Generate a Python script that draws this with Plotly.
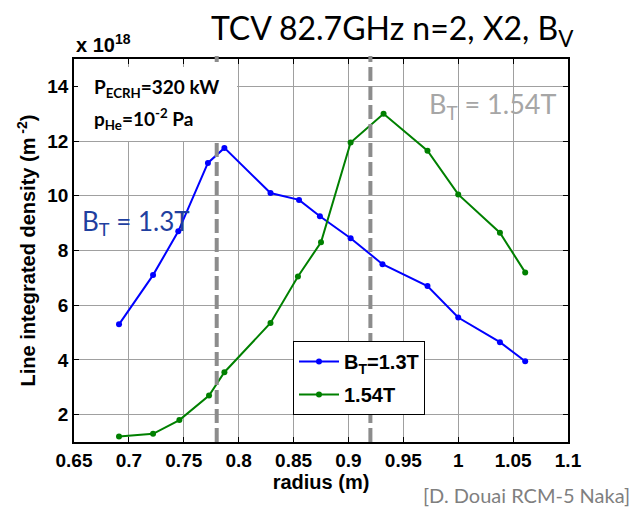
import plotly.graph_objects as go

# Line integrated density (x 1e18 m^-2) versus radius, two toroidal fields
radius_13 = [0.691, 0.722, 0.745, 0.772, 0.787, 0.829, 0.855, 0.874, 0.902, 0.931, 0.972, 1.000, 1.038, 1.061]
density_13 = [5.3, 7.1, 8.7, 11.2, 11.75, 10.1, 9.85, 9.25, 8.45, 7.5, 6.7, 5.55, 4.65, 3.95]

radius_154 = [0.691, 0.722, 0.746, 0.773, 0.787, 0.829, 0.854, 0.875, 0.902, 0.932, 0.972, 1.000, 1.038, 1.061]
density_154 = [1.2, 1.3, 1.8, 2.7, 3.55, 5.35, 7.05, 8.3, 11.95, 13.0, 11.65, 10.05, 8.65, 7.2]

# resonance positions (dashed markers)
resonance_r = [0.78, 0.92]

x_ticks = [0.65, 0.7, 0.75, 0.8, 0.85, 0.9, 0.95, 1.0, 1.05, 1.1]
x_ticktext = ["0.65", "0.7", "0.75", "0.8", "0.85", "0.9", "0.95", "1", "1.05", "1.1"]
y_ticks = [2, 4, 6, 8, 10, 12, 14]
y_ticktext = ["2", "4", "6", "8", "10", "12", "14"]

# plot-area geometry in pixels
L, R, T, B = 74, 72, 59, 68
W, H = 640, 510
PW, PH = W - L - R, H - T - B


def px(xp):
    return (xp - L) / PW


def py(yp):
    return (H - B - yp) / PH


def bold(s):
    return "<b>" + s + "</b>"


ARIAL = "Liberation Sans, Arial"
SOFT = "Lato, Open Sans, sans-serif"
tick_font = dict(family=ARIAL, size=19, color="black")
title_font = dict(family=ARIAL, size=20, color="black")

fig = go.Figure()
fig.add_trace(go.Scatter(
    x=radius_13, y=density_13, mode="lines+markers",
    name=bold("B<sub>T</sub>=1.3T"), legendgroup="a",
    line=dict(color="#0000ff", width=2),
    marker=dict(color="#0000ff", size=6),
))
fig.add_trace(go.Scatter(
    x=radius_154, y=density_154, mode="lines+markers",
    name=bold("1.54T"), legendgroup="b",
    line=dict(color="#008000", width=2),
    marker=dict(color="#008000", size=6),
))

for r in resonance_r:
    fig.add_shape(type="line", xref="x", yref="paper", x0=r, x1=r, y0=0, y1=1.008,
                  line=dict(color="#8c8c8c", width=4, dash="14px,5px"), layer="above")

# white panel behind the operating-condition text
fig.add_shape(type="rect", xref="paper", yref="paper",
              x0=px(78), x1=px(237), y0=py(141), y1=py(67),
              fillcolor="white", line=dict(width=0), layer="above")

axis_common = dict(
    showline=True, linecolor="black", linewidth=1.5, mirror="ticks",
    ticks="inside", ticklen=5, tickcolor="black",
    showgrid=True, gridcolor="#a0a0a0", gridwidth=1,
    zeroline=False, tickfont=tick_font,
)

fig.update_layout(
    width=W, height=H,
    margin=dict(l=L, r=R, t=T, b=B),
    paper_bgcolor="white", plot_bgcolor="white",
    xaxis=dict(range=[0.65, 1.1], tickvals=x_ticks, ticktext=[bold(t) for t in x_ticktext],
               title=dict(text=bold("radius (m)"), font=title_font, standoff=4), **axis_common),
    yaxis=dict(range=[1, 15], tickvals=y_ticks, ticktext=[bold(t) for t in y_ticktext],
               title=dict(text=bold("Line integrated density (m<sup> -2</sup>)"), font=title_font, standoff=6),
               **axis_common),
    showlegend=True,
    legend=dict(x=px(293), y=py(341), xanchor="left", yanchor="top",
                bgcolor="white", bordercolor="black", borderwidth=1,
                font=dict(family=ARIAL, size=20, color="black"),
                itemwidth=40, tracegroupgap=4),
)

annotations = [
    dict(text="TCV 82.7GHz n=2, X2, B<sub>V</sub>", x=px(392), y=py(30),
         xanchor="center", yanchor="middle", font=dict(family=SOFT, size=32, color="black")),
    dict(text=bold("x 10<sup>18</sup>"), x=px(74), y=py(43),
         xanchor="left", yanchor="middle", font=dict(family=ARIAL, size=20, color="black")),
    dict(text=bold("P<sub>ECRH</sub>=320 kW"), x=px(92), y=py(88), xanchor="left", yanchor="middle",
         font=dict(family=SOFT, size=19, color="black")),
    dict(text=bold("p<sub>He</sub>=10<sup>-2</sup> Pa"), x=px(92), y=py(119), xanchor="left", yanchor="middle",
         font=dict(family=SOFT, size=19, color="black")),
    dict(text="B<sub>T</sub> = 1.3T", x=px(80), y=py(222), xanchor="left", yanchor="middle",
         font=dict(family=SOFT, size=26, color="#1f3f9f")),
    dict(text="B<sub>T</sub> = 1.54T", x=px(427), y=py(105), xanchor="left", yanchor="middle",
         font=dict(family=SOFT, size=27, color="#a6a6a6")),
    dict(text="[D. Douai RCM-5 Naka]", x=px(632), y=py(495), xanchor="right", yanchor="middle",
         font=dict(family=SOFT, size=20, color="#7f7f7f")),
]
for a in annotations:
    a.update(xref="paper", yref="paper", showarrow=False)
fig.update_layout(annotations=annotations)

fig.write_html("out.html")
